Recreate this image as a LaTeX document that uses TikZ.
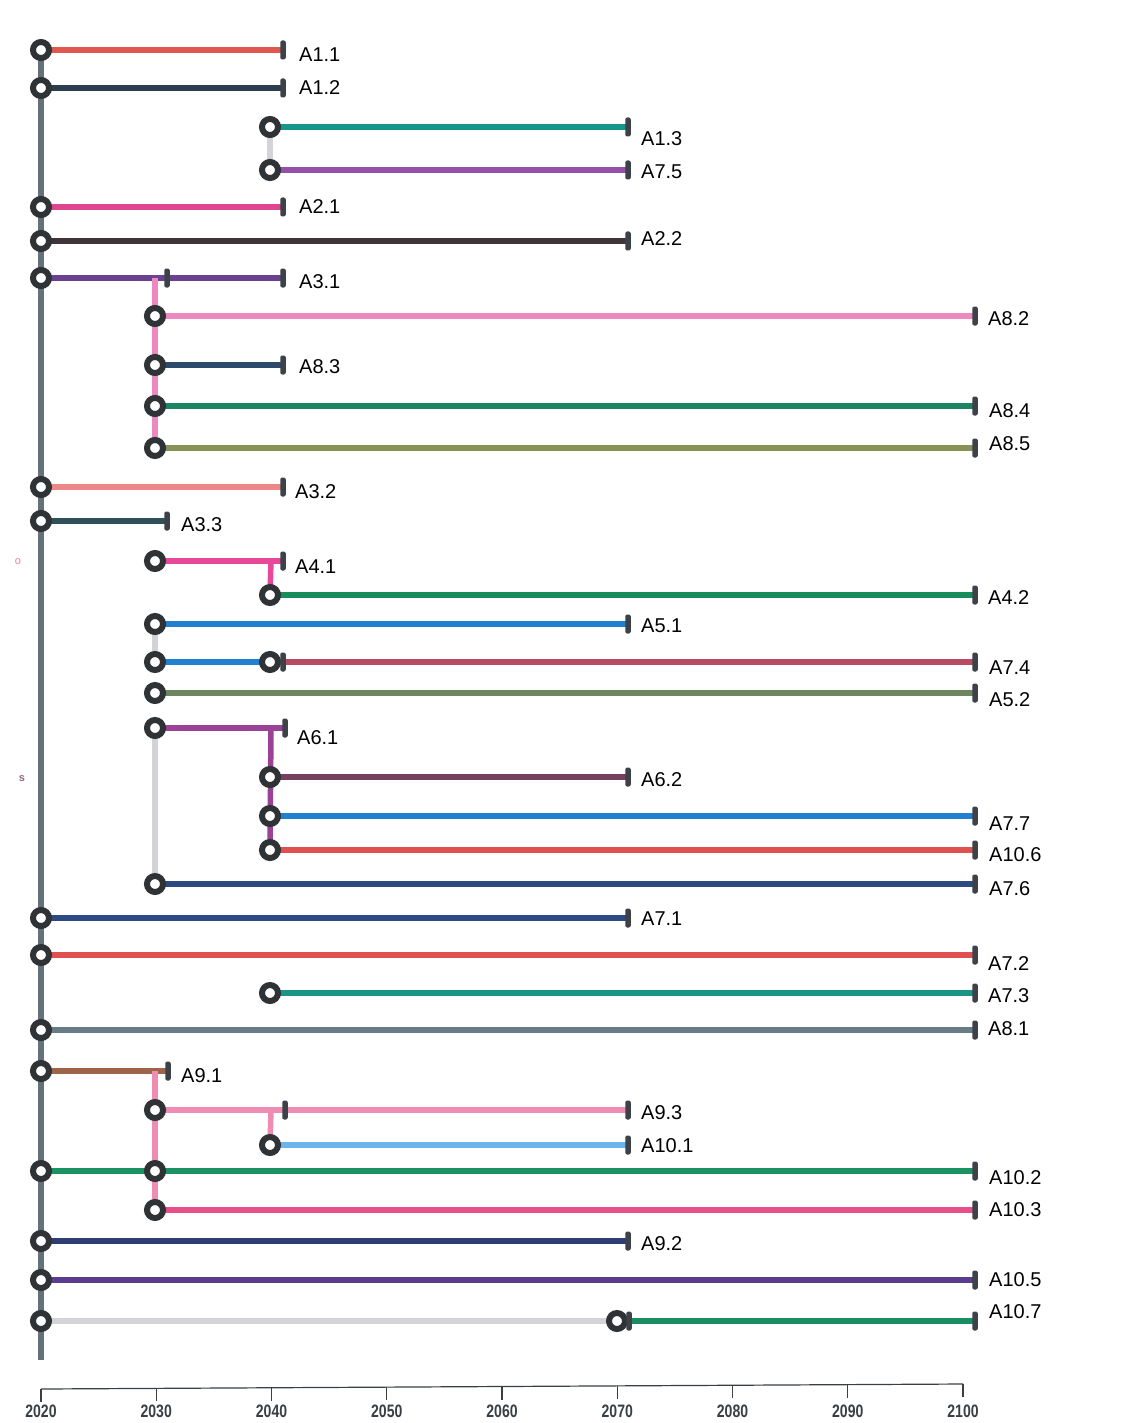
\documentclass[tikz,border=0pt]{standalone}
\usepackage{fontspec}
\setmainfont{Liberation Sans}
\usetikzlibrary{backgrounds,calc}
\definecolor{ringc}{HTML}{2F3336}
\definecolor{barc}{HTML}{3C4248}
\definecolor{trunkc}{HTML}{66727A}
\definecolor{lgray}{HTML}{D4D4D8}
\definecolor{cA}{HTML}{E0574F}
\definecolor{cB}{HTML}{2C3E50}
\definecolor{cC}{HTML}{16968A}
\definecolor{cD}{HTML}{9450A8}
\definecolor{cE}{HTML}{E0458F}
\definecolor{cF}{HTML}{3F3539}
\definecolor{cG}{HTML}{6B4290}
\definecolor{cH}{HTML}{EE88C0}
\definecolor{cI}{HTML}{2E4A6A}
\definecolor{cJ}{HTML}{1A8560}
\definecolor{cK}{HTML}{8A9158}
\definecolor{cL}{HTML}{EE8888}
\definecolor{cM}{HTML}{2F5058}
\definecolor{cN}{HTML}{E8489A}
\definecolor{cO}{HTML}{178E5A}
\definecolor{cP}{HTML}{2280D0}
\definecolor{cQ}{HTML}{B84A62}
\definecolor{cR}{HTML}{6E8660}
\definecolor{cS}{HTML}{9A4295}
\definecolor{cT}{HTML}{77405E}
\definecolor{cU}{HTML}{E05050}
\definecolor{cV}{HTML}{2D4A82}
\definecolor{cW}{HTML}{1A9585}
\definecolor{cX}{HTML}{687C88}
\definecolor{cY}{HTML}{9E6448}
\definecolor{cZ}{HTML}{EE8CB4}
\definecolor{ca}{HTML}{6CB4EC}
\definecolor{cb}{HTML}{1A9262}
\definecolor{cc}{HTML}{E84E88}
\definecolor{cd}{HTML}{2E3E72}
\definecolor{ce}{HTML}{5C3C8C}
\definecolor{cf}{HTML}{188E62}
\definecolor{axc}{HTML}{3A3F44}
\tikzset{
  ring/.style={circle,draw=ringc,line width=6,fill=white,minimum size=16,inner sep=0},
  endb/.style={rectangle,fill=barc,minimum width=5.5,minimum height=19,rounded corners=2,inner sep=0},
  lbl/.style={anchor=west,font=\fontsize{20}{24}\selectfont,inner sep=0,text=black},
  track/.style={line width=5.5},
  yr/.style={font=\fontsize{18}{20}\selectfont\bfseries,text=axc,xscale=0.78,inner sep=0},
}
% name, y, x1, x2, colour, label, label x, label y
\newcommand\trk[8]{%
  \node[ring] (#1a) at (#3,#2) {};
  \node[endb] (#1b) at (#4,#2) {};
  \node[lbl] (#1l) at (#7,#8) {#6};
  \begin{scope}[on background layer]\draw[track,draw=#5] (#1a.center) -- (#1b.center);\end{scope}}
\newcommand\vcon[3]{\begin{scope}[on background layer]\draw[track,draw=#3] (#1) -- (#2);\end{scope}}
\begin{document}
\begin{tikzpicture}[x=1pt,y=-1pt]
\useasboundingbox (0,0) rectangle (1125,1423);
% trunk
\coordinate (ttop) at (41,50);
\coordinate (tbot) at (41,1360);
\vcon{ttop}{tbot}{trunkc}
% tracks
\trk{r1}{50}{41}{283}{cA}{A1.1}{299}{55}
\trk{r2}{88}{41}{283}{cB}{A1.2}{299}{88}
\trk{r3}{127}{270}{628}{cC}{A1.3}{641}{139}
\trk{r4}{170}{270}{628}{cD}{A7.5}{641}{172}
\trk{r5}{207}{41}{283}{cE}{A2.1}{299}{207}
\trk{r6}{241}{41}{628}{cF}{A2.2}{641}{239}
\trk{r7}{278}{41}{283}{cG}{A3.1}{299}{282}
\node[endb] (r7m) at (167,278) {};
\trk{r8}{316}{155}{975}{cH}{A8.2}{988}{319}
\trk{r9}{365}{155}{283}{cI}{A8.3}{299}{367}
\trk{r10}{406}{155}{975}{cJ}{A8.4}{989}{411}
\trk{r11}{448}{155}{975}{cK}{A8.5}{989}{444}
\trk{r12}{487}{41}{283}{cL}{A3.2}{295}{492}
\trk{r13}{521}{41}{167}{cM}{A3.3}{181}{525}
\trk{r14}{561}{155}{283}{cN}{A4.1}{295}{567}
\trk{r15}{595}{270}{975}{cO}{A4.2}{988}{598}
\trk{r16}{624}{155}{628}{cP}{A5.1}{641}{626}
% A7.4 row
\node[ring] (r17a) at (155,662) {};
\node[ring] (r17c) at (270,662) {};
\node[endb] (r17m) at (283,662) {};
\node[endb] (r17b) at (975,662) {};
\node[lbl] (r17l) at (989,668) {A7.4};
\begin{scope}[on background layer]
\draw[track,draw=cP] (r17a.center) -- (r17c.center);
\draw[track,draw=cQ] (r17c.center) -- (r17b.center);
\end{scope}
\trk{r18}{693}{155}{975}{cR}{A5.2}{989}{700}
\trk{r19}{728}{155}{285}{cS}{A6.1}{297}{738}
\trk{r20}{777}{270}{628}{cT}{A6.2}{641}{780}
\trk{r21}{816}{270}{975}{cP}{A7.7}{989}{824}
\trk{r22}{850}{270}{975}{cU}{A10.6}{989}{855}
\trk{r23}{884}{155}{975}{cV}{A7.6}{989}{889}
\trk{r24}{918}{41}{628}{cV}{A7.1}{641}{919}
\trk{r25}{955}{41}{975}{cU}{A7.2}{988}{964}
\trk{r26}{993}{270}{975}{cW}{A7.3}{988}{996}
\trk{r27}{1030}{41}{975}{cX}{A8.1}{988}{1029}
\trk{r28}{1071}{41}{168}{cY}{A9.1}{181}{1076}
\trk{r29}{1110}{155}{628}{cZ}{A9.3}{641}{1113}
\node[endb] (r29m) at (285,1110) {};
\trk{r30}{1145}{270}{628}{ca}{A10.1}{641}{1146}
\trk{r31}{1171}{41}{975}{cb}{A10.2}{989}{1178}
\node[ring] (r31c) at (155,1171) {};
\trk{r32}{1210}{155}{975}{cc}{A10.3}{989}{1210}
\trk{r33}{1241}{41}{628}{cd}{A9.2}{641}{1244}
\trk{r34}{1280}{41}{975}{ce}{A10.5}{989}{1280}
% A10.7 row
\node[ring] (r35a) at (41,1321) {};
\node[ring] (r35c) at (617,1321) {};
\node[endb] (r35m) at (629,1321) {};
\node[endb] (r35b) at (975,1321) {};
\node[lbl] (r35l) at (989,1312) {A10.7};
\begin{scope}[on background layer]
\draw[track,draw=lgray] (r35a.center) -- (r35c.center);
\draw[track,draw=cf] (r35c.center) -- (r35b.center);
\end{scope}
% vertical connectors
\coordinate (j7) at (155,278);
\coordinate (j14) at (271,561);
\coordinate (j19) at (271,728);
\coordinate (j28) at (155,1071);
\coordinate (j29) at (271,1110);
\vcon{r3a.center}{r4a.center}{lgray}
\vcon{j7}{r11a.center}{cH}
\vcon{j14}{r15a.center}{cN}
\vcon{r16a.center}{r17a.center}{lgray}
\vcon{j19}{r22a.center}{cS}
\vcon{r19a.center}{r23a.center}{lgray}
\vcon{j28}{r32a.center}{cZ}
\vcon{j29}{r30a.center}{cZ}
% stray marks
\node[font=\fontsize{11}{12}\selectfont,text=cE!70] (so) at (18,562) {o};
\node[font=\fontsize{11}{12}\selectfont\bfseries,text=cT!80] (ss) at (22,779) {s};
% axis
\coordinate (ax0) at (41,1389);
\coordinate (ax1) at (963,1384);
\draw[axc,line width=1.2] (ax0) -- (ax1);
\foreach \i/\yr in {0/2020,1/2030,2/2040,3/2050,4/2060,5/2070,6/2080,7/2090,8/2100}{
  \coordinate (tk\i) at ($(ax0)!\i/8!(ax1)$);
  \draw[axc,line width=1.2] (tk\i) -- ++(0,13);
  \node[yr] (yl\i) at ($(tk\i|-0,1411)$) {\yr};
}
\end{tikzpicture}
\end{document}
